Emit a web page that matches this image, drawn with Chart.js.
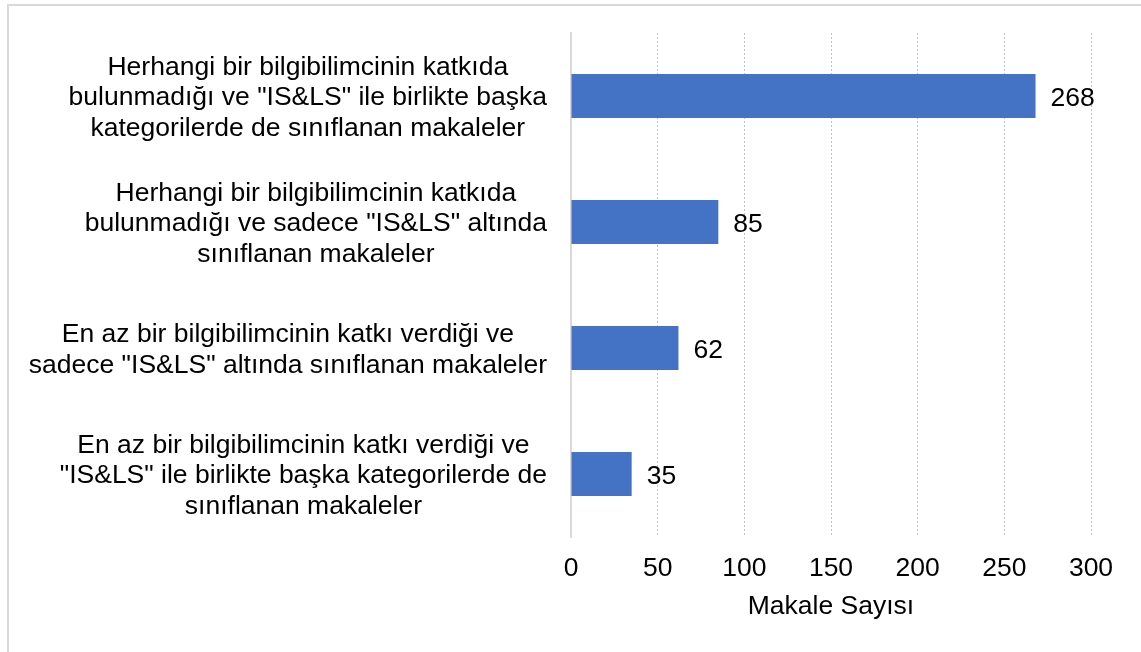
<!DOCTYPE html>
<html>
<head>
<meta charset="utf-8">
<script src="https://cdn.jsdelivr.net/npm/chart.js@4/dist/chart.umd.min.js"></script>
<style>
  html, body { margin: 0; padding: 0; background: #ffffff; }
  #wrap { position: relative; width: 1141px; height: 652px; overflow: hidden; }
  #frame { position: absolute; left: 7px; top: 4px; width: 1160px; height: 700px; border: 2px solid #d9d9d9; box-sizing: border-box; }
  canvas { position: absolute; left: 0; top: 0; }
</style>
</head>
<body>
<div id="wrap">
  <div id="frame"></div>
  <canvas id="c" width="1141" height="652"></canvas>
</div>
<script>
const categories = [
  ["Herhangi bir bilgibilimcinin katkıda", "bulunmadığı ve \"IS&LS\" ile birlikte başka", "kategorilerde de sınıflanan makaleler"],
  ["Herhangi bir bilgibilimcinin katkıda", "bulunmadığı ve sadece \"IS&LS\" altında", "sınıflanan makaleler"],
  ["En az bir bilgibilimcinin katkı verdiği ve", "sadece \"IS&LS\" altında sınıflanan makaleler"],
  ["En az bir bilgibilimcinin katkı verdiği ve", "\"IS&LS\" ile birlikte başka kategorilerde de", "sınıflanan makaleler"]
];
const values = [268, 85, 62, 35];
const xTicks = [0, 50, 100, 150, 200, 250, 300];
const xTitle = "Makale Sayısı";

const FONT = "'Liberation Sans', Arial, sans-serif";
const FS = 26.5;
const LABEL_GAP = 24;

const valueLabels = {
  id: 'valueLabels',
  afterDatasetsDraw(chart) {
    const ctx = chart.ctx;
    const meta = chart.getDatasetMeta(0);
    ctx.save();
    ctx.font = FS + "px " + FONT;
    ctx.fillStyle = "#000000";
    ctx.textAlign = "left";
    ctx.textBaseline = "middle";
    meta.data.forEach((bar, i) => {
      ctx.fillText(String(values[i]), bar.x + 15, bar.y + 3);
    });
    ctx.restore();
  }
};

// Each label block is right-aligned next to the axis, with its lines centred inside the block.
function patchLabelBlocks(scale) {
  if (scale._blockPatched) return;
  scale._blockPatched = true;
  const orig = scale._computeLabelItems;
  scale._computeLabelItems = function (chartArea) {
    const items = orig.call(this, chartArea);
    const ctx = this.ctx;
    ctx.save();
    ctx.font = FS + "px " + FONT;
    items.forEach((item) => {
      const lines = Array.isArray(item.label) ? item.label : [item.label];
      const w = Math.max(...lines.map(l => ctx.measureText(l).width));
      if (item.options && item.options.translation) {
        item.options.translation[0] = this.right - LABEL_GAP - w / 2;
        item.options.translation[1] += 2;
      }
    });
    ctx.restore();
    return items;
  };
}

new Chart(document.getElementById('c'), {
  type: 'bar',
  data: {
    labels: categories,
    datasets: [{
      data: values,
      backgroundColor: '#4472C4',
      borderWidth: 0,
      barPercentage: 0.35,
      categoryPercentage: 1.0
    }]
  },
  options: {
    indexAxis: 'y',
    responsive: false,
    animation: false,
    devicePixelRatio: 1,
    layout: { padding: { left: 0, right: 50, top: 33, bottom: 0 } },
    plugins: {
      legend: { display: false },
      tooltip: { enabled: false }
    },
    scales: {
      x: {
        min: 0,
        max: 300,
        afterBuildTicks(scale) { scale.ticks = xTicks.map(v => ({ value: v })); },
        afterFit(scale) { scale.height = 115; },
        ticks: {
          color: '#000000',
          font: { family: FONT, size: FS },
          padding: 16,
          maxRotation: 0
        },
        grid: {
          drawTicks: false,
          color: (ctx) => (ctx.tick && ctx.tick.value === 0) ? 'rgba(0,0,0,0)' : '#bfbfbf',
          lineWidth: 1
        },
        border: { display: false, dash: [2, 2] },
        title: {
          display: true,
          text: xTitle,
          color: '#000000',
          font: { family: FONT, size: FS },
          padding: { top: 0, bottom: 29 }
        }
      },
      y: {
        afterFit(scale) { scale.width = 571; scale.paddingTop = 0; scale.paddingBottom = 0; },
        afterUpdate(scale) { patchLabelBlocks(scale); },
        ticks: {
          color: '#000000',
          font: { family: FONT, size: FS, lineHeight: 1.16 },
          crossAlign: 'center',
          padding: LABEL_GAP
        },
        grid: { display: false, drawTicks: false },
        border: { display: true, color: '#d9d9d9', width: 2 }
      }
    }
  },
  plugins: [valueLabels]
});
</script>
</body>
</html>
